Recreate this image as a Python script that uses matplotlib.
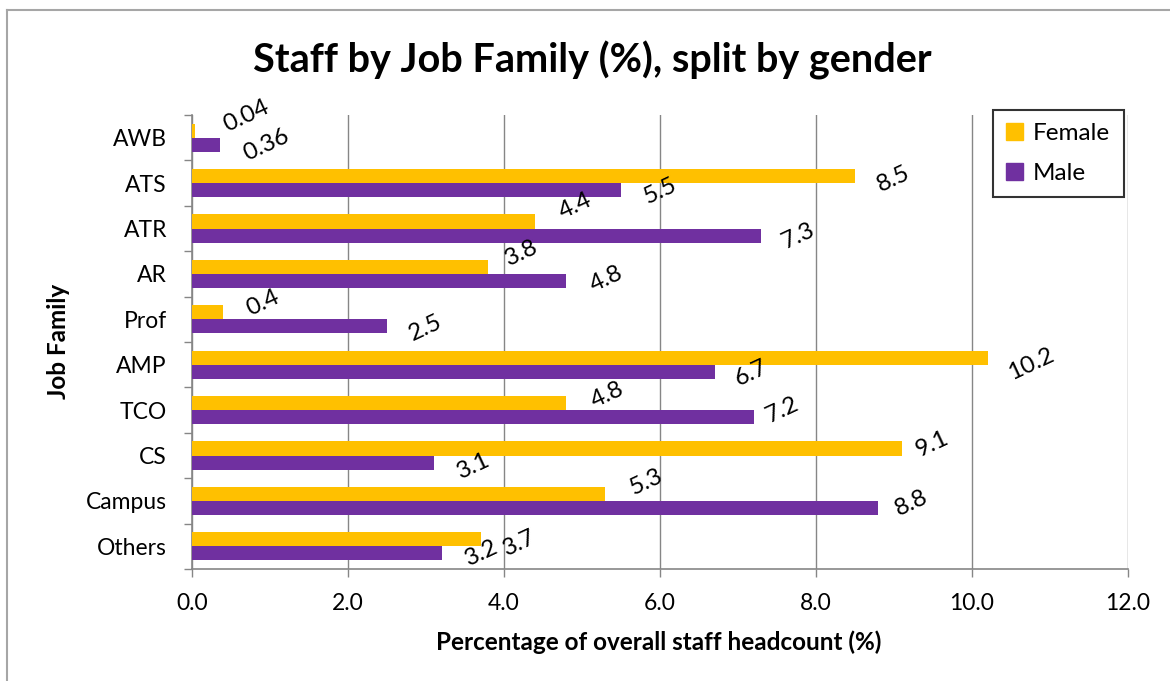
import numpy as np
import matplotlib
matplotlib.use('Agg')
import matplotlib.pyplot as plt
from matplotlib.lines import Line2D
from matplotlib.patches import Patch

plt.rcParams['font.family'] = ['Lato', 'DejaVu Sans']

# staff share by job family, in percent of total headcount
families = ['AWB', 'ATS', 'ATR', 'AR', 'Prof', 'AMP', 'TCO', 'CS', 'Campus', 'Others']
female = [0.04, 8.5, 4.4, 3.8, 0.4, 10.2, 4.8, 9.1, 5.3, 3.7]
male = [0.36, 5.5, 7.3, 4.8, 2.5, 6.7, 7.2, 3.1, 8.8, 3.2]
xticks = [0, 2, 4, 6, 8, 10, 12]

# where each value label sits relative to its bar end (pixels: right, up)
female_nudge = [(51, 15), (38, -3), (40, 15), (33, 14), (40, 9),
                (44, -6), (41, 8), (31, 4), (41, 12), (39, -4)]
male_nudge = [(46, 0), (39, -1), (37, 0), (40, 2), (39, -2),
              (37, -1), (29, 7), (40, -3), (33, 5), (40, 0)]

FEMALE_C = '#FFC000'
MALE_C = '#7030A0'
GREY = '#868686'

W, H = 1170, 681
fig = plt.figure(figsize=(W / 100, H / 100), dpi=100)
ax = fig.add_axes([192 / W, 1 - 569 / H, 936 / W, 454 / H])

y = np.arange(len(families))
bh = 0.3125
ax.barh(y - bh / 2, female, height=bh, color=FEMALE_C, zorder=3)
ax.barh(y + bh / 2, male, height=bh, color=MALE_C, zorder=3)

for i in range(len(families)):
    ax.annotate(f'{female[i]:g}', xy=(female[i], y[i] - bh / 2), xytext=female_nudge[i],
                textcoords='offset pixels', ha='center', va='center', rotation=25,
                fontsize=17.5, zorder=4)
    ax.annotate(f'{male[i]:g}', xy=(male[i], y[i] + bh / 2), xytext=male_nudge[i],
                textcoords='offset pixels', ha='center', va='center', rotation=25,
                fontsize=17.5, zorder=4)

ax.set_xlim(0, 12)
ax.set_ylim(len(families) - 0.5, -0.5)
ax.set_xticks(xticks)
ax.set_xticklabels([f'{t:.1f}' for t in xticks])
ax.set_yticks(y)
ax.set_yticklabels(families)
ax.set_yticks(np.arange(len(families) + 1) - 0.5, minor=True)

ax.tick_params(axis='y', which='major', length=0, pad=18, labelsize=16.5)
ax.tick_params(axis='y', which='minor', length=6, width=1, color=GREY)
ax.tick_params(axis='x', which='major', length=6, width=1, color=GREY, pad=11, labelsize=16.5)

for side in ['top', 'right']:
    ax.spines[side].set_visible(False)
for side in ['left', 'bottom']:
    ax.spines[side].set_color(GREY)
    ax.spines[side].set_linewidth(1.2)

ax.grid(axis='x', color=GREY, linewidth=1, zorder=0)
ax.set_axisbelow(True)

fig.text(592 / W, 1 - 60 / H, 'Staff by Job Family (%), split by gender',
         ha='center', va='center', fontsize=28.5, fontweight='bold')
fig.text(659 / W, 1 - 642 / H, 'Percentage of overall staff headcount (%)',
         ha='center', va='center', fontsize=17.5, fontweight='bold')
fig.text(59 / W, 1 - 341 / H, 'Job Family', ha='center', va='center',
         rotation=90, fontsize=17.5, fontweight='bold')

handles = [Patch(color=FEMALE_C, label='Female'), Patch(color=MALE_C, label='Male')]
leg = fig.legend(handles=handles, loc='upper left', bbox_to_anchor=(993 / W, 1 - 110 / H),
                 fontsize=17.5, frameon=True, fancybox=False, edgecolor='black',
                 borderaxespad=0, handlelength=0.7, handleheight=0.7,
                 handletextpad=0.4, labelspacing=0.75, borderpad=0.55)
leg.get_frame().set_linewidth(1.5)

# light grey outline around the chart area
fig.add_artist(Line2D([7 / W, 7 / W], [0, 1 - 10 / H], transform=fig.transFigure,
                      color='#A6A6A6', linewidth=1.5))
fig.add_artist(Line2D([7 / W, 1], [1 - 10 / H, 1 - 10 / H], transform=fig.transFigure,
                      color='#A6A6A6', linewidth=1.5))

fig.savefig('out.png', dpi=100)
